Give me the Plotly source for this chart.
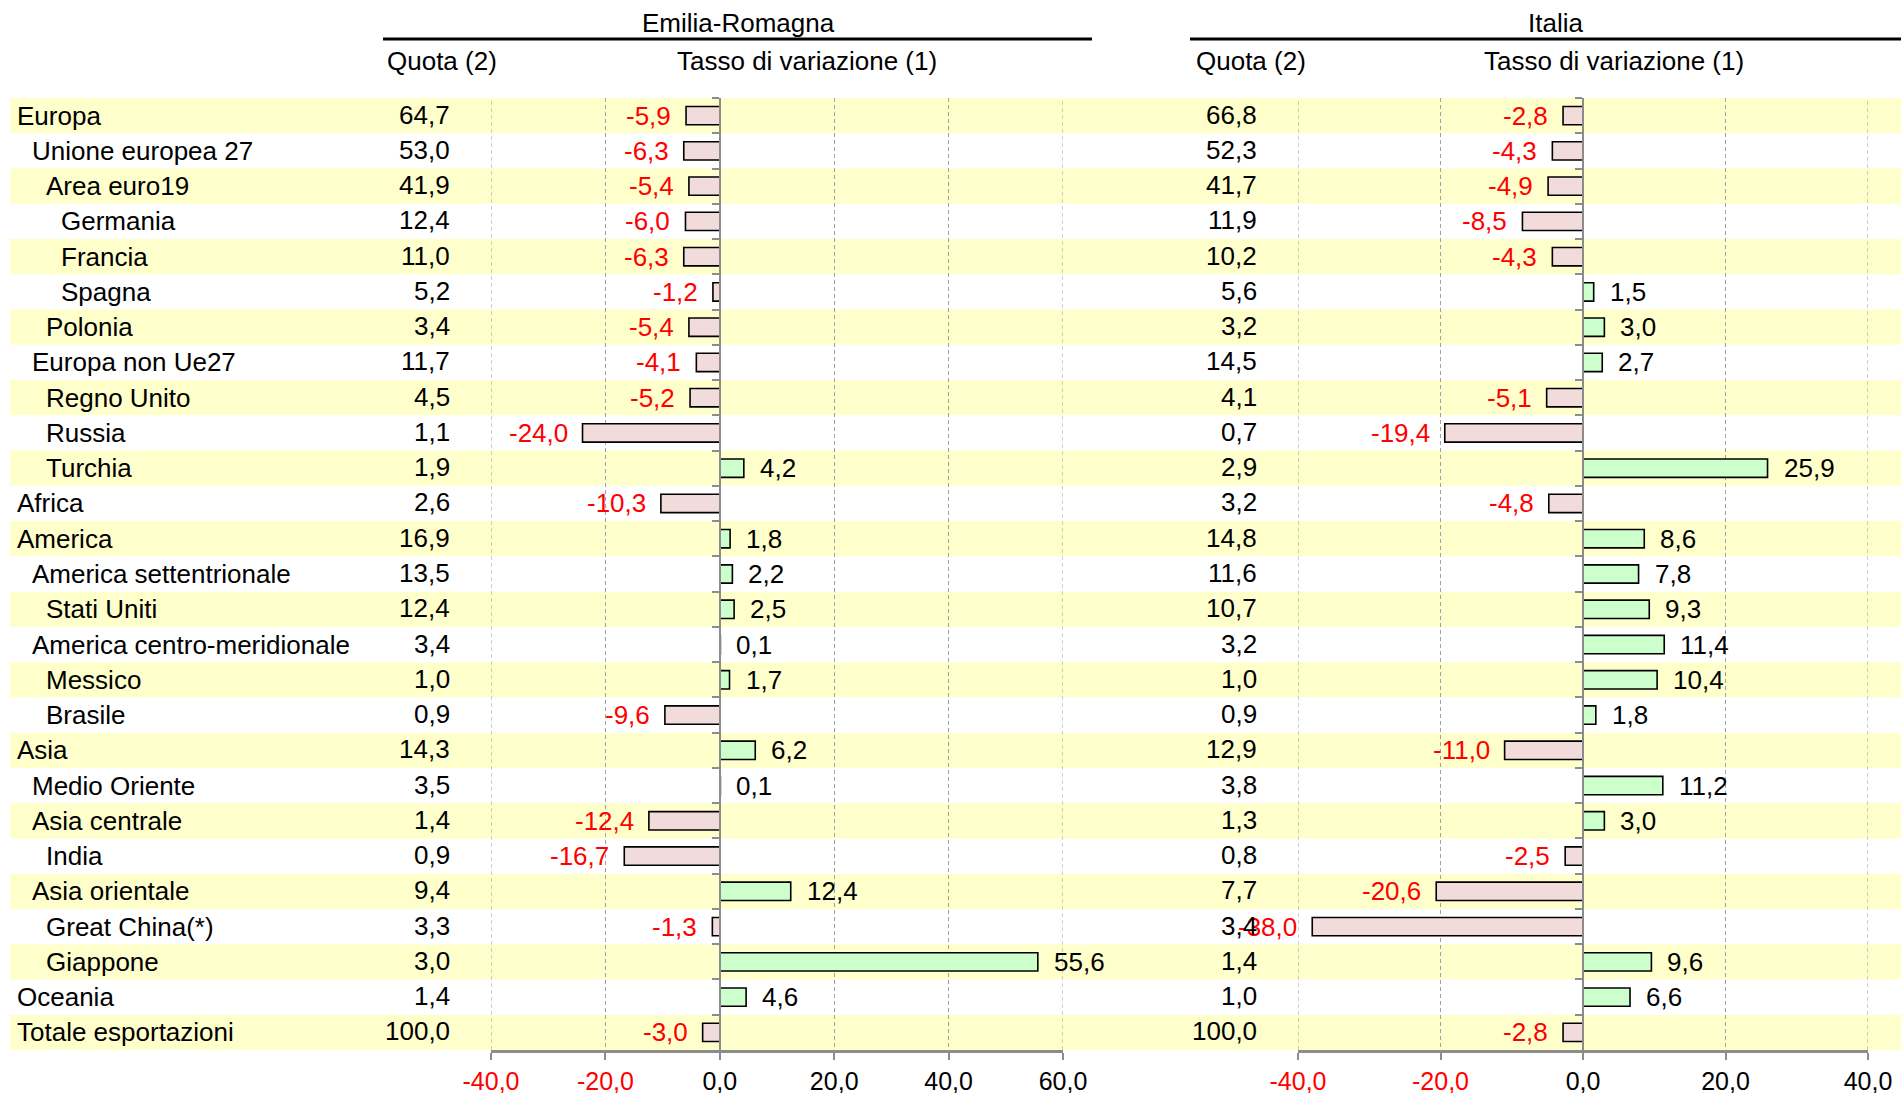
import plotly.graph_objects as go

# ---------------- data ----------------
regions = [
    "Europa", "Unione europea 27", "Area euro19", "Germania", "Francia", "Spagna",
    "Polonia", "Europa non Ue27", "Regno Unito", "Russia", "Turchia", "Africa",
    "America", "America settentrionale", "Stati Uniti", "America centro-meridionale",
    "Messico", "Brasile", "Asia", "Medio Oriente", "Asia centrale", "India",
    "Asia orientale", "Great China(*)", "Giappone", "Oceania", "Totale esportazioni",
]
levels = [0, 1, 2, 3, 3, 3, 2, 1, 2, 2, 2, 0, 0, 1, 2, 1, 2, 2, 0, 1, 1, 2, 1, 2, 2, 0, 0]

er_quota = [64.7, 53.0, 41.9, 12.4, 11.0, 5.2, 3.4, 11.7, 4.5, 1.1, 1.9, 2.6,
            16.9, 13.5, 12.4, 3.4, 1.0, 0.9, 14.3, 3.5, 1.4, 0.9, 9.4, 3.3, 3.0, 1.4, 100.0]
er_var = [-5.9, -6.3, -5.4, -6.0, -6.3, -1.2, -5.4, -4.1, -5.2, -24.0, 4.2, -10.3,
          1.8, 2.2, 2.5, 0.1, 1.7, -9.6, 6.2, 0.1, -12.4, -16.7, 12.4, -1.3, 55.6, 4.6, -3.0]
it_quota = [66.8, 52.3, 41.7, 11.9, 10.2, 5.6, 3.2, 14.5, 4.1, 0.7, 2.9, 3.2,
            14.8, 11.6, 10.7, 3.2, 1.0, 0.9, 12.9, 3.8, 1.3, 0.8, 7.7, 3.4, 1.4, 1.0, 100.0]
it_var = [-2.8, -4.3, -4.9, -8.5, -4.3, 1.5, 3.0, 2.7, -5.1, -19.4, 25.9, -4.8,
          8.6, 7.8, 9.3, 11.4, 10.4, 1.8, -11.0, 11.2, 3.0, -2.5, -20.6, -38.0, 9.6, 6.6, -2.8]

er_ticks = [-40, -20, 0, 20, 40, 60]
it_ticks = [-40, -20, 0, 20, 40]
er_range = [-40, 60]
it_range = [-40, 40]

titles = ["Emilia-Romagna", "Italia"]
col_quota = "Quota (2)"
col_var = "Tasso di variazione (1)"

# ---------------- layout constants ----------------
W, H = 1901, 1093
FONT = "Liberation Sans, Arial, sans-serif"
FS = 26
TICK_FS = 25
RED = "#FF0000"
NEG_FILL = "#F2DCDB"
POS_FILL = "#CCFFCC"
BAND = "#FFFFCC"
GREY = "#8C8C8C"
GRID = "#A0A0A0"
GRID_DASH = "4px,3px"


def px(p):
    return p / W


def py(p):
    return 1 - p / H


ER_DOM = [px(491), px(1063)]
IT_DOM = [px(1298), px(1868)]
Y_DOM = [py(1050), py(98)]


def fmt(v):
    return f"{v:.1f}".replace(".", ",")


def tick_text(vals):
    return [f'<span style="color:{RED}">{fmt(v)}</span>' if v < 0 else fmt(v) for v in vals]


def zero_pos(dom, rng):
    return dom[0] + (0 - rng[0]) / (rng[1] - rng[0]) * (dom[1] - dom[0])


fig = go.Figure()

# alternating bands (drawn first, lowest)
for i, r in enumerate(regions):
    if i % 2 == 0:
        fig.add_shape(type="rect", xref="paper", yref="y", x0=px(10), x1=1.0,
                      y0=i - 0.5, y1=i + 0.5, fillcolor=BAND, line=dict(width=0), layer="below")

panels = [
    (er_var, er_quota, "x", "y", er_range, px(452), px(383), px(1092), px(738), px(385), px(807)),
    (it_var, it_quota, "x2", "y2", it_range, px(1259), px(1190), 1.0, px(1555), px(1194), px(1614)),
]

for k, (vals, quota, xa, ya, rng, qx, lx0, lx1, tx, qhx, vhx) in enumerate(panels):
    # dashed gridlines at the two ends of the value axis
    for edge in rng:
        fig.add_shape(type="line", xref=xa, yref="paper", x0=edge, x1=edge,
                      y0=Y_DOM[0], y1=Y_DOM[1], layer="below",
                      line=dict(color=GRID, width=1, dash=GRID_DASH))
    fig.add_trace(go.Bar(
        x=vals, y=regions, orientation="h", xaxis=xa, yaxis=ya, width=0.52,
        marker=dict(color=[NEG_FILL if v < 0 else POS_FILL for v in vals],
                    line=dict(color="black", width=1.6)),
        hoverinfo="skip", showlegend=False,
    ))
    # value labels next to bars
    for r, v in zip(regions, vals):
        fig.add_annotation(
            x=v, y=r, xref=xa, yref=ya, text=fmt(v), showarrow=False,
            xanchor="right" if v < 0 else "left", xshift=-13 if v < 0 else 14,
            font=dict(family=FONT, size=FS, color=RED if v < 0 else "black"),
        )
    # quota column
    for r, q in zip(regions, quota):
        fig.add_annotation(
            x=qx, y=r, xref="paper", yref=ya, text=fmt(q), showarrow=False,
            xanchor="right", yshift=1, font=dict(family=FONT, size=FS, color="black"),
        )
    # headers
    fig.add_annotation(x=tx, y=py(23), xref="paper", yref="paper", text=titles[k],
                       showarrow=False, xanchor="center", yanchor="middle",
                       font=dict(family=FONT, size=FS, color="black"))
    fig.add_shape(type="line", xref="paper", yref="paper", x0=lx0, x1=lx1,
                  y0=py(39), y1=py(39), line=dict(color="black", width=3))
    fig.add_annotation(x=qhx, y=py(61), xref="paper", yref="paper", text=col_quota,
                       showarrow=False, xanchor="left", yanchor="middle",
                       font=dict(family=FONT, size=FS, color="black"))
    fig.add_annotation(x=vhx, y=py(61), xref="paper", yref="paper", text=col_var,
                       showarrow=False, xanchor="center", yanchor="middle",
                       font=dict(family=FONT, size=FS, color="black"))

# row labels
for r, lev in zip(regions, levels):
    fig.add_annotation(
        x=px(15 + 14.7 * lev), y=r, xref="paper", yref="y", text=r, showarrow=False,
        xanchor="left", font=dict(family=FONT, size=FS, color="black"),
    )

xcommon = dict(
    showgrid=True, gridcolor=GRID, griddash=GRID_DASH, gridwidth=1,
    zeroline=False, showline=True, linecolor=GREY, linewidth=3,
    ticks="outside", ticklen=7, tickcolor=GREY, tickwidth=1.5,
    tickfont=dict(family=FONT, size=TICK_FS, color="black"), ticklabelstandoff=0,
    fixedrange=True, automargin=False,
)
ycommon = dict(
    type="category", categoryorder="array", categoryarray=regions,
    range=[len(regions) - 0.5, -0.5], domain=Y_DOM, showgrid=False, zeroline=False,
    showticklabels=False, showline=True, linecolor=GREY, linewidth=2,
    ticks="outside", tickson="boundaries", ticklen=7, tickcolor=GREY, tickwidth=1.5,
    anchor="free", fixedrange=True, automargin=False,
)

fig.update_layout(
    template="none",
    width=W, height=H, margin=dict(l=0, r=0, t=0, b=0, autoexpand=False),
    paper_bgcolor="white", plot_bgcolor="rgba(0,0,0,0)",
    font=dict(family=FONT, size=FS, color="black"),
    showlegend=False,
    xaxis=dict(domain=ER_DOM, range=er_range, tickvals=er_ticks, ticktext=tick_text(er_ticks),
               anchor="y", **xcommon),
    xaxis2=dict(domain=IT_DOM, range=it_range, tickvals=it_ticks, ticktext=tick_text(it_ticks),
                anchor="y2", **xcommon),
    yaxis=dict(position=zero_pos(ER_DOM, er_range), **ycommon),
    yaxis2=dict(position=zero_pos(IT_DOM, it_range), matches="y", **ycommon),
)

# remove the default page margin so the 1901x1093 figure fills the window exactly
fig.write_html(
    "out.html",
    config={"displayModeBar": False},
    post_script="document.body.style.margin='0';document.body.style.overflow='hidden';",
)
